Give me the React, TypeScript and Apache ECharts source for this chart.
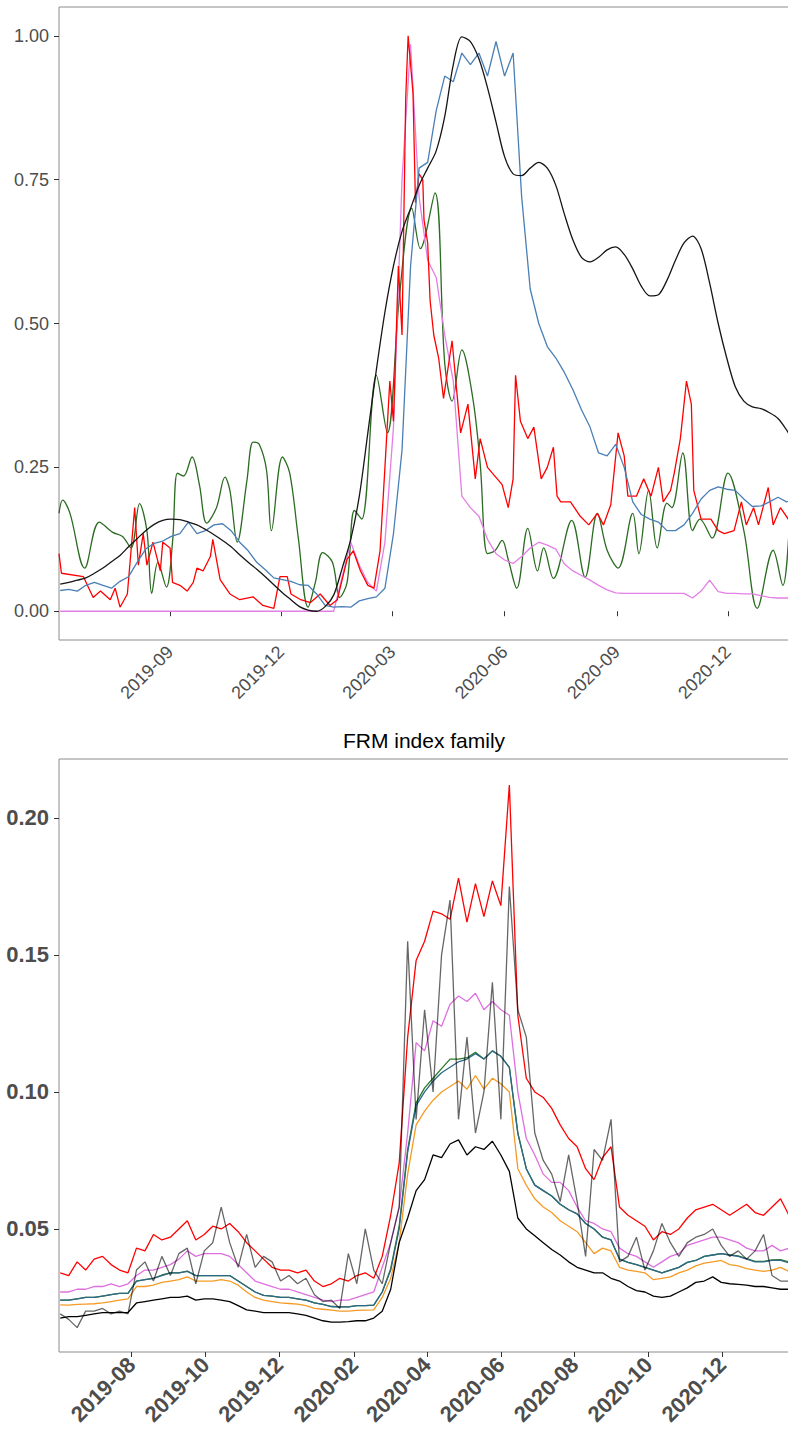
import React, { useEffect, useRef } from "react";
import * as echarts from "echarts";

const DAY = 86400000;
const weekStart = Date.UTC(2019, 5, 3);
const weekCount = 87;
const weeks = Array.from({ length: weekCount }, (_, i) => weekStart + i * 7 * DAY);
const dayBase = Date.UTC(2019, 5, 2);

// ---------- top panel ----------
const topTickDates = ["2019-09-01", "2019-12-01", "2020-03-01", "2020-06-01", "2020-09-01", "2020-12-01"];
const topYTicks = [0, 0.25, 0.5, 0.75, 1];

const topBlack = [
  0.047, 0.05, 0.054, 0.058, 0.066, 0.075, 0.086, 0.097, 0.112, 0.126,
  0.14, 0.151, 0.158, 0.16, 0.159, 0.155, 0.15, 0.142, 0.133, 0.123,
  0.112, 0.098, 0.085, 0.073, 0.06, 0.046, 0.032, 0.02, 0.008, 0.002,
  0.0, 0.008, 0.028, 0.075, 0.125, 0.2, 0.31, 0.42, 0.52, 0.6,
  0.66, 0.7, 0.74, 0.77, 0.8, 0.86, 0.95, 0.998, 0.99, 0.96,
  0.91, 0.85, 0.79, 0.76, 0.757, 0.77, 0.78, 0.77, 0.74, 0.69,
  0.645, 0.615, 0.607, 0.615, 0.628, 0.633, 0.62, 0.595, 0.565, 0.548,
  0.55, 0.575, 0.61, 0.64, 0.652, 0.63, 0.57, 0.5, 0.44, 0.39,
  0.365, 0.355, 0.352, 0.345, 0.335, 0.315, 0.29,
];

// red: day offsets from 2019-06-02, and values
const topRedDays = [
  0, 2, 20, 28, 34, 42, 46, 50, 56, 62,
  65, 69, 72, 77, 83, 85, 91, 93, 99, 105,
  110, 113, 118, 124, 126, 132, 140, 148, 159, 167,
  176, 181, 187, 190, 198, 206, 214, 222, 228, 236,
  241, 247, 253, 258, 263, 267, 271, 274, 278, 281,
  284, 286, 290, 292, 295, 298, 299, 302, 304, 307,
  311, 315, 322, 329, 335, 341, 345, 351, 359, 363,
  368, 372, 374, 378, 384, 389, 395, 400, 405, 408,
  411, 419, 427, 434, 441, 446, 452, 458, 463, 466,
  473, 479, 485, 491, 495, 501, 504, 509, 514, 518,
  520, 526, 534, 540, 545, 553, 559, 563, 569, 573,
  581, 585, 591, 599,
];
const topRed = [
  0.1, 0.066, 0.06, 0.024, 0.035, 0.02, 0.04, 0.007, 0.03, 0.18,
  0.08, 0.135, 0.08, 0.12, 0.07, 0.12, 0.11, 0.05, 0.045, 0.035,
  0.05, 0.075, 0.07, 0.095, 0.125, 0.055, 0.03, 0.02, 0.025, 0.01,
  0.005, 0.06, 0.06, 0.03, 0.02, 0.015, 0.03, 0.01, 0.02, 0.09,
  0.105, 0.07, 0.045, 0.04, 0.105, 0.25, 0.4, 0.33, 0.6, 0.48,
  0.89, 1.0, 0.9, 0.71, 0.76, 0.75, 0.68, 0.64, 0.54, 0.48,
  0.44, 0.37, 0.47, 0.31, 0.36, 0.23, 0.3, 0.25, 0.23, 0.22,
  0.18, 0.23, 0.41, 0.33, 0.3, 0.32, 0.23, 0.25, 0.285, 0.2,
  0.19, 0.19, 0.165, 0.15, 0.17, 0.15, 0.185, 0.31, 0.27, 0.2,
  0.2, 0.23, 0.2, 0.25, 0.19, 0.21, 0.24, 0.3, 0.4, 0.36,
  0.21, 0.16, 0.16, 0.14, 0.135, 0.14, 0.19, 0.15, 0.18, 0.15,
  0.215, 0.15, 0.18, 0.155,
];

const topViolet = [
  0, 0, 0, 0, 0, 0, 0, 0, 0, 0,
  0, 0, 0, 0, 0, 0, 0, 0, 0, 0,
  0, 0, 0, 0, 0, 0, 0, 0, 0, 0,
  0, 0, 0, 0.06, 0.12, 0.08, 0.05, 0.035, 0.12, 0.32,
  0.75, 0.985, 0.72, 0.61, 0.58, 0.48, 0.4, 0.2, 0.18, 0.165,
  0.125, 0.1, 0.089, 0.083, 0.095, 0.11, 0.12, 0.115, 0.108, 0.082,
  0.07, 0.062, 0.054, 0.045, 0.037, 0.032, 0.031, 0.031, 0.031, 0.031,
  0.031, 0.031, 0.031, 0.031, 0.023, 0.035, 0.054, 0.034, 0.031, 0.031,
  0.03, 0.03, 0.027, 0.024, 0.023, 0.023, 0.023,
];

const topBlue = [
  0.036, 0.038, 0.035, 0.045, 0.05, 0.045, 0.04, 0.052, 0.06, 0.085,
  0.108, 0.118, 0.122, 0.13, 0.135, 0.155, 0.135, 0.14, 0.15, 0.152,
  0.14, 0.12, 0.105, 0.085, 0.072, 0.058, 0.055, 0.052, 0.046, 0.045,
  0.03, 0.01, 0.007, 0.008, 0.007, 0.018, 0.022, 0.025, 0.04, 0.135,
  0.28, 0.6, 0.77, 0.78, 0.87, 0.93, 0.92, 0.97, 0.95, 0.97,
  0.93, 0.99, 0.93, 0.97, 0.72, 0.56, 0.5, 0.46, 0.44, 0.415,
  0.385, 0.35, 0.32, 0.275, 0.27, 0.29, 0.25, 0.19, 0.168, 0.16,
  0.155, 0.14, 0.14, 0.15, 0.17, 0.195, 0.21, 0.216, 0.212, 0.21,
  0.195, 0.182, 0.183, 0.19, 0.198, 0.19, 0.195,
];

const topGreenDates = [
  "2019-06-02", "2019-06-05", "2019-06-11", "2019-06-23", "2019-07-05", "2019-07-16", "2019-07-24", "2019-07-31",
  "2019-08-07", "2019-08-13", "2019-08-17", "2019-08-22", "2019-08-29", "2019-09-03", "2019-09-07", "2019-09-12",
  "2019-09-19", "2019-09-25", "2019-10-01", "2019-10-09", "2019-10-16", "2019-10-20", "2019-10-26", "2019-11-03",
  "2019-11-08", "2019-11-13", "2019-11-19", "2019-11-23", "2019-12-02", "2019-12-08", "2019-12-15", "2019-12-23",
  "2019-12-29", "2020-01-04", "2020-01-12", "2020-01-18", "2020-01-24", "2020-01-30", "2020-02-05", "2020-02-17",
  "2020-02-26", "2020-03-07", "2020-03-17", "2020-03-24", "2020-04-05", "2020-04-13", "2020-04-19", "2020-04-27",
  "2020-05-06", "2020-05-12", "2020-05-18", "2020-05-24", "2020-05-30", "2020-06-04", "2020-06-11", "2020-06-20",
  "2020-06-28", "2020-07-03", "2020-07-11", "2020-07-26", "2020-08-06", "2020-08-16", "2020-08-24", "2020-09-02",
  "2020-09-14", "2020-09-19", "2020-09-27", "2020-10-04", "2020-10-12", "2020-10-16", "2020-10-25", "2020-11-02",
  "2020-11-08", "2020-11-18", "2020-12-01", "2020-12-14", "2020-12-25", "2021-01-07", "2021-01-15", "2021-01-20",
];
const topGreen = [
  0.17, 0.193, 0.17, 0.075, 0.155, 0.137, 0.13, 0.11,
  0.187, 0.14, 0.031, 0.085, 0.042, 0.12, 0.24, 0.235,
  0.268, 0.22, 0.153, 0.18, 0.233, 0.21, 0.12, 0.228,
  0.294, 0.29, 0.245, 0.14, 0.268, 0.24, 0.128, 0.007,
  0.05, 0.102, 0.085, 0.024, 0.05, 0.175, 0.16, 0.41,
  0.31, 0.55, 0.7, 0.63, 0.727, 0.43, 0.365, 0.454,
  0.37, 0.257, 0.1, 0.105, 0.123, 0.09, 0.04, 0.144,
  0.07, 0.11, 0.057, 0.158, 0.059, 0.17, 0.106, 0.075,
  0.17, 0.1, 0.21, 0.11, 0.188, 0.18, 0.275, 0.14,
  0.16, 0.127, 0.24, 0.14, 0.005, 0.106, 0.045, 0.14,
];

// ---------- bottom panel: FRM index family ----------
const bottomTickDates = ["2019-08-01", "2019-10-01", "2019-12-01", "2020-02-01", "2020-04-01", "2020-06-01", "2020-08-01", "2020-10-01", "2020-12-01"];
const bottomYTicks = [0.05, 0.1, 0.15, 0.2];

const frmRed = [
  0.034, 0.033, 0.038, 0.035, 0.039, 0.04, 0.037, 0.035, 0.034, 0.043,
  0.042, 0.048, 0.046, 0.047, 0.05, 0.053, 0.046, 0.048, 0.051, 0.05,
  0.052, 0.049, 0.045, 0.042, 0.039, 0.036, 0.035, 0.035, 0.034, 0.035,
  0.031, 0.029, 0.03, 0.032, 0.031, 0.033, 0.034, 0.032, 0.04, 0.055,
  0.074, 0.12, 0.148, 0.155, 0.166, 0.165, 0.163, 0.178, 0.162, 0.176,
  0.164, 0.177, 0.168, 0.212, 0.128, 0.105, 0.1, 0.098, 0.094, 0.088,
  0.083, 0.08, 0.072, 0.068, 0.076, 0.08, 0.058, 0.055, 0.053, 0.051,
  0.046, 0.049, 0.048, 0.05, 0.054, 0.057, 0.058, 0.059, 0.057, 0.055,
  0.057, 0.059, 0.056, 0.055, 0.058, 0.061, 0.055,
];

const frmViolet = [
  0.027, 0.027, 0.028, 0.028, 0.029, 0.029, 0.03, 0.029, 0.03, 0.033,
  0.035, 0.035, 0.036, 0.037, 0.039, 0.042, 0.04, 0.041, 0.041, 0.041,
  0.04, 0.037, 0.034, 0.031, 0.03, 0.029, 0.028, 0.028, 0.027, 0.026,
  0.025, 0.024, 0.0235, 0.024, 0.024, 0.025, 0.026, 0.027, 0.036, 0.045,
  0.058, 0.085, 0.118, 0.115, 0.126, 0.124, 0.132, 0.135, 0.133, 0.136,
  0.13, 0.133, 0.13, 0.128, 0.1, 0.083, 0.077, 0.07, 0.067, 0.067,
  0.064, 0.058, 0.053, 0.052, 0.05, 0.049, 0.043, 0.041, 0.04, 0.038,
  0.036, 0.038, 0.04, 0.041, 0.044, 0.045, 0.046, 0.047, 0.047, 0.046,
  0.045, 0.043, 0.042, 0.042, 0.044, 0.042, 0.043,
];

const frmTeal = [
  0.024, 0.024, 0.0245, 0.025, 0.025, 0.0255, 0.026, 0.0265, 0.0265, 0.031,
  0.0315, 0.032, 0.033, 0.034, 0.034, 0.0345, 0.033, 0.033, 0.033, 0.033,
  0.033, 0.031, 0.029, 0.027, 0.0258, 0.0255, 0.025, 0.025, 0.0245, 0.024,
  0.023, 0.0225, 0.0217, 0.0216, 0.0216, 0.022, 0.022, 0.0222, 0.027, 0.035,
  0.05, 0.078, 0.095, 0.1, 0.104, 0.107, 0.109, 0.111, 0.112, 0.114,
  0.112, 0.115, 0.113, 0.109, 0.085, 0.072, 0.066, 0.064, 0.062, 0.059,
  0.057, 0.0555, 0.052, 0.05, 0.047, 0.046, 0.039, 0.0378, 0.037, 0.036,
  0.035, 0.034, 0.035, 0.036, 0.0378, 0.0385, 0.04, 0.0405, 0.041, 0.0405,
  0.04, 0.039, 0.038, 0.038, 0.0385, 0.0385, 0.0376,
];

const frmGreen = [
  0.024, 0.024, 0.0245, 0.025, 0.025, 0.0255, 0.026, 0.0265, 0.0265, 0.031,
  0.0315, 0.032, 0.0332, 0.034, 0.034, 0.0346, 0.033, 0.033, 0.033, 0.033,
  0.033, 0.031, 0.029, 0.027, 0.0258, 0.0255, 0.025, 0.025, 0.0245, 0.024,
  0.023, 0.0225, 0.0217, 0.0216, 0.0216, 0.022, 0.022, 0.0222, 0.027, 0.0355,
  0.051, 0.079, 0.096, 0.1015, 0.105, 0.1085, 0.112, 0.112, 0.1125, 0.1145,
  0.112, 0.115, 0.113, 0.109, 0.085, 0.072, 0.066, 0.064, 0.062, 0.059,
  0.057, 0.0555, 0.052, 0.05, 0.047, 0.046, 0.039, 0.0378, 0.037, 0.036,
  0.035, 0.034, 0.035, 0.036, 0.0378, 0.0385, 0.04, 0.0405, 0.041, 0.0405,
  0.0402, 0.0392, 0.0382, 0.0382, 0.0387, 0.0388, 0.038,
];

const frmOrange = [
  0.0223, 0.0222, 0.0225, 0.0226, 0.0227, 0.023, 0.0235, 0.024, 0.0245, 0.029,
  0.029, 0.0295, 0.0305, 0.031, 0.0315, 0.0325, 0.031, 0.031, 0.031, 0.0315,
  0.031, 0.0295, 0.027, 0.025, 0.024, 0.0235, 0.023, 0.0228, 0.0226, 0.022,
  0.021, 0.0207, 0.0204, 0.02, 0.02, 0.0203, 0.0204, 0.0205, 0.025, 0.032,
  0.045, 0.07, 0.088, 0.093, 0.097, 0.1, 0.102, 0.104, 0.101, 0.106,
  0.101, 0.105, 0.103, 0.1, 0.072, 0.066, 0.061, 0.058, 0.056, 0.053,
  0.051, 0.049, 0.045, 0.041, 0.043, 0.042, 0.036, 0.035, 0.0345, 0.034,
  0.0315, 0.032, 0.0325, 0.034, 0.035, 0.0365, 0.0375, 0.038, 0.0385, 0.037,
  0.0365, 0.0355, 0.035, 0.0345, 0.035, 0.036, 0.0345,
];

const frmBlack = [
  0.0175, 0.018, 0.018, 0.0185, 0.019, 0.0195, 0.0195, 0.0195, 0.0195, 0.023,
  0.0235, 0.024, 0.0245, 0.025, 0.025, 0.0255, 0.024, 0.0245, 0.0245, 0.024,
  0.0235, 0.022, 0.0205, 0.02, 0.0195, 0.0195, 0.0195, 0.0195, 0.019, 0.0185,
  0.0175, 0.0165, 0.016, 0.016, 0.0162, 0.0165, 0.0165, 0.0175, 0.02, 0.028,
  0.045, 0.054, 0.064, 0.068, 0.077, 0.076, 0.081, 0.0825, 0.077, 0.08,
  0.079, 0.082, 0.077, 0.071, 0.054, 0.05, 0.0475, 0.045, 0.0425, 0.0405,
  0.038, 0.036, 0.035, 0.034, 0.034, 0.032, 0.031, 0.029, 0.0275, 0.027,
  0.0255, 0.025, 0.0255, 0.027, 0.0285, 0.0305, 0.031, 0.0325, 0.0305, 0.03,
  0.0298, 0.0295, 0.029, 0.029, 0.0285, 0.028, 0.028,
];

const frmGray = [
  0.019, 0.017, 0.014, 0.02, 0.02, 0.021, 0.019, 0.02, 0.019, 0.035,
  0.038, 0.031, 0.04, 0.033, 0.041, 0.043, 0.03, 0.042, 0.045, 0.058,
  0.045, 0.036, 0.048, 0.036, 0.04, 0.038, 0.031, 0.033, 0.03, 0.032,
  0.026, 0.0235, 0.024, 0.021, 0.041, 0.03, 0.05, 0.035, 0.03, 0.045,
  0.058, 0.155, 0.09, 0.13, 0.1, 0.15, 0.17, 0.09, 0.12, 0.085,
  0.1, 0.14, 0.09, 0.175, 0.13, 0.12, 0.085, 0.075, 0.07, 0.06,
  0.077, 0.06, 0.04, 0.079, 0.075, 0.09, 0.038, 0.04, 0.047, 0.035,
  0.042, 0.052, 0.045, 0.04, 0.045, 0.047, 0.048, 0.05, 0.044, 0.04,
  0.042, 0.039, 0.042, 0.048, 0.033, 0.031, 0.031,
];

const FONT = '"Liberation Sans", Arial, Helvetica, sans-serif';
const ts = (s: string) => Date.parse(s);
const fmtMonth = (v: number) => {
  const d = new Date(v);
  return d.getUTCFullYear() + "-" + String(d.getUTCMonth() + 1).padStart(2, "0");
};

function line(name: string, xs: number[], ys: number[], color: string, axis: number, extra: any = {}) {
  return {
    type: "line",
    name,
    xAxisIndex: axis,
    yAxisIndex: axis,
    data: xs.map((x, i) => [x, ys[i]]),
    showSymbol: false,
    symbol: "none",
    clip: true,
    lineStyle: { color, width: 1.3, ...(extra.lineStyle || {}) },
    itemStyle: { color },
    smooth: extra.smooth || false,
    z: 2,
  };
}

export default function App() {
  const ref = useRef<HTMLDivElement>(null);
  useEffect(() => {
    if (!ref.current) return;
    const chart = echarts.init(ref.current, null, { renderer: "svg" });
    const topTicks = topTickDates.map(ts);
    const botTicks = bottomTickDates.map(ts);
    const greenX = topGreenDates.map(ts);
    const redX = topRedDays.map((d) => dayBase + d * DAY);

    const xAxisBase = (grid: number, min: string, max: string, ticks: number[], bold: boolean) => ({
      type: "value",
      gridIndex: grid,
      min: ts(min),
      max: ts(max),
      scale: true,
      splitLine: { show: false },
      axisLine: { show: false },
      axisTick: { show: true, customValues: ticks, length: 5, lineStyle: { color: "#333", width: 1 } },
      axisLabel: {
        customValues: ticks,
        formatter: (v: number) => fmtMonth(v),
        rotate: 45,
        margin: 9,
        fontSize: bold ? 22 : 18,
        fontWeight: bold ? "bold" : "normal",
        color: "#4d4d4d",
        fontFamily: FONT,
        hideOverlap: false,
      },
    });
    const yAxisBase = (grid: number, min: number, max: number, ticks: number[], bold: boolean) => ({
      type: "value",
      gridIndex: grid,
      min,
      max,
      splitLine: { show: false },
      axisLine: { show: false },
      axisTick: { show: true, customValues: ticks, length: 5, lineStyle: { color: "#333", width: 1 } },
      axisLabel: {
        customValues: ticks,
        formatter: (v: number) => v.toFixed(2),
        margin: 10,
        fontSize: bold ? 22 : 18,
        fontWeight: bold ? "bold" : "normal",
        color: "#4d4d4d",
        fontFamily: FONT,
      },
    });

    chart.setOption({
      animation: false,
      textStyle: { fontFamily: FONT },
      graphic: [
        {
          type: "text",
          x: 424,
          y: 740,
          style: {
            text: "FRM index family",
            fill: "#000",
            fontSize: 21,
            fontFamily: FONT,
            textAlign: "center",
            textVerticalAlign: "middle",
            align: "center",
            verticalAlign: "middle",
          },
        },
      ],
      grid: [
        { left: 59, top: 7, width: 730, height: 633, show: true, borderColor: "#8c8c8c", borderWidth: 1, backgroundColor: "transparent" },
        { left: 59, top: 759, width: 730, height: 593, show: true, borderColor: "#8c8c8c", borderWidth: 1, backgroundColor: "transparent" },
      ],
      xAxis: [
        xAxisBase(0, "2019-06-02", "2021-01-20", topTicks, false),
        xAxisBase(1, "2019-06-02", "2021-01-25", botTicks, true),
      ],
      yAxis: [
        yAxisBase(0, -0.05, 1.05, topYTicks, false),
        yAxisBase(1, 0.0051, 0.2215, bottomYTicks, true),
      ],
      series: [
        line("green", greenX, topGreen, "#2b6b22", 0, { smooth: 0.35 }),
        line("violet", weeks, topViolet, "#e47fe6", 0),
        line("red", redX, topRed, "#ff0000", 0),
        line("blue", weeks, topBlue, "#4a7fb5", 0),
        line("black", weeks, topBlack, "#151515", 0, { smooth: 0.3 }),

        line("orange", weeks, frmOrange, "#f59b25", 1),
        line("green", weeks, frmGreen, "#2d7a2d", 1),
        line("teal", weeks, frmTeal, "#2e6887", 1),
        line("violet", weeks, frmViolet, "#de6fe0", 1),
        line("red", weeks, frmRed, "#ff0000", 1),
        line("black", weeks, frmBlack, "#000000", 1),
        line("gray", weeks, frmGray, "#000000", 1, { lineStyle: { opacity: 0.6 } }),
      ],
    });
    return () => chart.dispose();
  }, []);

  return (
    <div style={{ position: "fixed", left: 0, top: 0, width: 788, height: 1432, overflow: "hidden", background: "#fff" }}>
      <div ref={ref} style={{ width: 800, height: 1432 }} />
    </div>
  );
}
